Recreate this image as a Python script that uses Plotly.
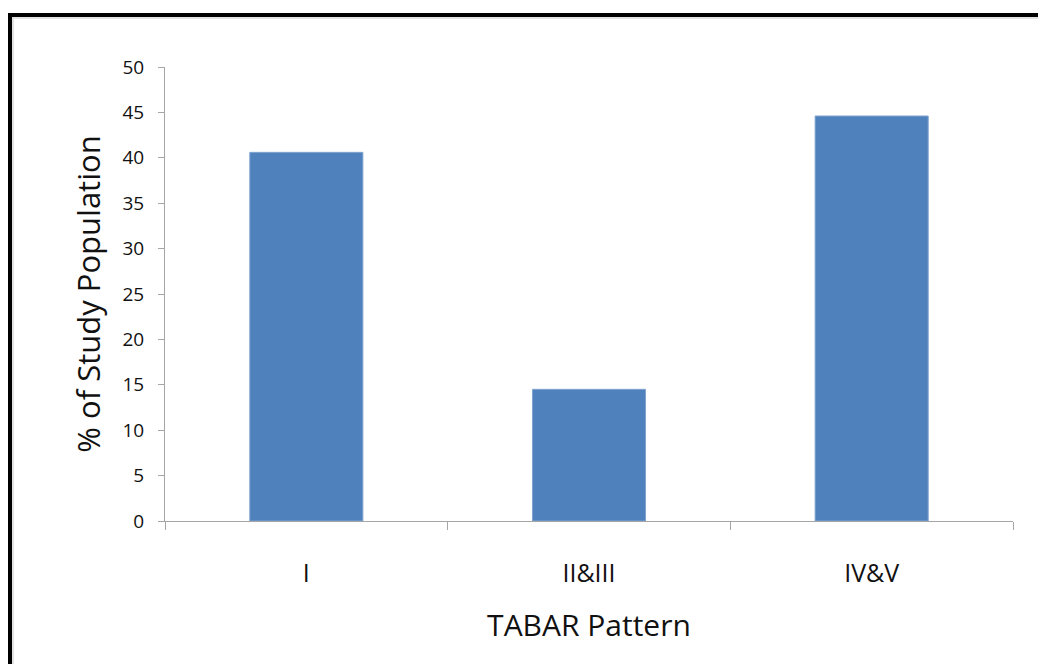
import plotly.graph_objects as go

categories = ["I", "II&III", "IV&V"]
values = [40.6, 14.5, 44.6]
y_ticks = [0, 5, 10, 15, 20, 25, 30, 35, 40, 45, 50]

# page has an 8px body margin; figure is sized/margined to compensate
OFF = 8
W, H = 1038, 656
L, R, T, B = 157, 33, 59, 143
FONT = "Open Sans"

fig = go.Figure(go.Bar(
    x=categories, y=values,
    marker=dict(color="#4F81BD", line=dict(color="#7FA3CF", width=1)),
    width=0.4,
))

def px_x(p):
    return (p - OFF - L) / (W - L - R)

def px_y(p):
    return (OFF + H - B - p) / (H - T - B)

shapes = [
    dict(type="line", xref="paper", yref="paper", x0=px_x(8), x1=px_x(1060), y0=px_y(15), y1=px_y(15),
         line=dict(color="black", width=4)),
    dict(type="line", xref="paper", yref="paper", x0=px_x(10), x1=px_x(10), y0=px_y(13), y1=px_y(690),
         line=dict(color="black", width=4)),
    dict(type="line", xref="paper", yref="paper", x0=px_x(12), x1=px_x(1060), y0=px_y(18), y1=px_y(18),
         line=dict(color="#D9D9D9", width=1.5)),
    dict(type="line", xref="paper", yref="paper", x0=px_x(13), x1=px_x(13), y0=px_y(17), y1=px_y(690),
         line=dict(color="#D9D9D9", width=1.5)),
]

fig.update_layout(
    width=W, height=H,
    margin=dict(l=L, r=R, t=T, b=B),
    paper_bgcolor="white", plot_bgcolor="white",
    showlegend=False,
    shapes=shapes,
    font=dict(family=FONT, color="black"),
    xaxis=dict(
        type="category",
        showline=True, linecolor="#A6A6A6", linewidth=1,
        ticks="outside", tickson="boundaries", ticklen=8, tickcolor="#A6A6A6",
        tickfont=dict(size=25, family=FONT, color="#111111"),
        ticklabelstandoff=30,
        showgrid=False, zeroline=False,
        title=dict(text="TABAR Pattern", font=dict(size=30, family=FONT, color="#111111"), standoff=26),
    ),
    yaxis=dict(
        range=[0, 50], tickvals=y_ticks,
        showline=True, linecolor="#A6A6A6", linewidth=1,
        ticks="outside", ticklen=6, tickcolor="#A6A6A6",
        tickfont=dict(size=19, family=FONT, color="#111111"),
        ticklabelstandoff=10,
        showgrid=False, zeroline=False,
        title=dict(text="% of Study Population", font=dict(size=31, family=FONT, color="#111111"), standoff=12),
    ),
)

fig.write_html("out.html")
